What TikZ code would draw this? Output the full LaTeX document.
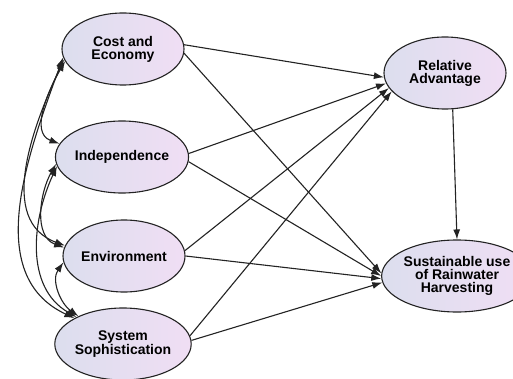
\documentclass[tikz,border=0pt]{standalone}
\usepackage{fontspec}
\setmainfont{Liberation Sans}
\usetikzlibrary{shapes.geometric,arrows.meta}
\definecolor{elleft}{RGB}{220,222,238}
\definecolor{elright}{RGB}{240,222,244}
\definecolor{edgegray}{RGB}{35,35,35}
\tikzset{
  var/.style={ellipse, draw=edgegray, line width=1.1pt, left color=elleft, right color=elright,
    minimum width=122pt, minimum height=72pt, inner sep=0pt, align=center,
    font=\fontsize{14}{13}\selectfont\bfseries},
  path/.style={line width=1.1pt, draw=edgegray, -{Latex[length=10pt,width=7pt]}},
  cov/.style={line width=1.1pt, draw=edgegray, {Latex[length=10pt,width=7pt]}-{Latex[length=10pt,width=7pt]}}
}
\begin{document}
\begin{tikzpicture}[x=1pt,y=-1pt]
\useasboundingbox (0,0) rectangle (513,379);
\fill[white] (0,0) rectangle (513,379);
\node[var] (cost) at (123,49) {Cost and\\Economy};
\node[var] (indep) at (122,157) {Independence};
\node[var] (env) at (124,256) {Environment};
\node[var] (sys) at (123,344) {System\\Sophistication};
\node[var] (ra) at (445,73) {Relative\\Advantage};
\node[var, minimum width=120pt] (su) at (457,276) {Sustainable use\\of Rainwater\\Harvesting};
% structural paths
\draw[path] (cost.4) -- (ra.184);
\draw[path] (cost.356) -- (su.178);
\draw[path] (indep.3) -- (ra.190);
\draw[path] (indep.356) -- (su.180);
\draw[path] (env.5) -- (ra.195);
\draw[path] (env.0) -- (su.182);
\draw[path] (sys.7) -- (ra.199);
\draw[path] (sys.3) -- (su.185);
\draw[path] (ra.-78) -- (su.north);
% covariances
\draw[cov] (cost.192) to[out=240,in=160] (indep.168);
\draw[cov] (cost.190) to[out=245,in=160] (env.170);
\draw[cov] (cost.188) to[out=250,in=155] (sys.152);
\draw[cov] (indep.186) to[out=240,in=160] (env.172);
\draw[cov] (indep.188) to[out=245,in=150] (sys.150);
\draw[cov] (env.186) to[out=235,in=145] (sys.148);
\end{tikzpicture}
\end{document}
